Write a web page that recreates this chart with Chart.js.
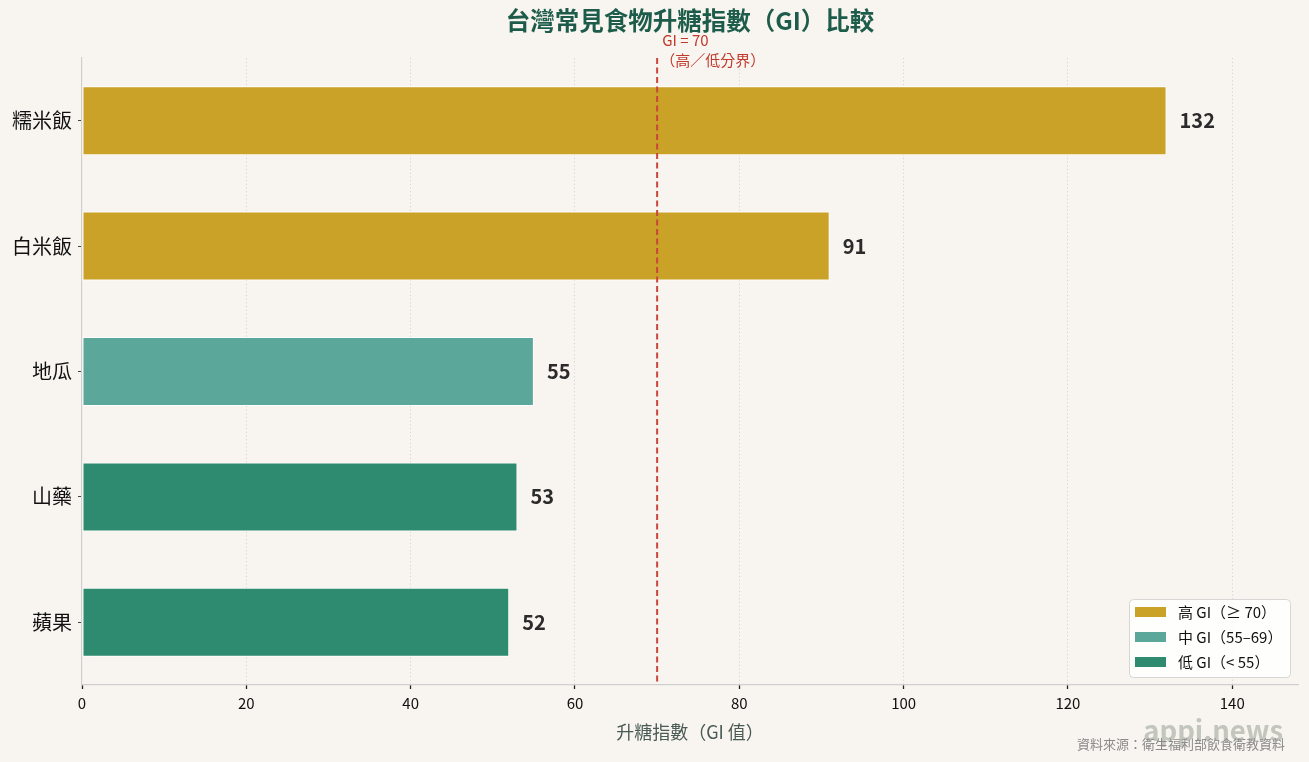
<!DOCTYPE html>
<html lang="zh-Hant">
<head>
<meta charset="utf-8">
<title>台灣常見食物升糖指數（GI）比較</title>
<script src="https://cdn.jsdelivr.net/npm/chart.js@4/dist/chart.umd.min.js"></script>
<style>
  html, body { margin: 0; padding: 0; background: #F8F5F0; }
  #wrap { width: 1309px; height: 762px; position: relative; }
</style>
</head>
<body>
<div id="wrap"><canvas id="giChart"></canvas></div>
<script>
// Data
const foods = ['糯米飯', '白米飯', '地瓜', '山藥', '蘋果'];
const giValues = [132, 91, 55, 53, 52];
const giLevels = ['high', 'high', 'mid', 'low', 'low'];
const xTicks = [0, 20, 40, 60, 80, 100, 120, 140];
const xMax = 148;
const giThreshold = 70;

const levelColors = { high: '#C9A227', mid: '#5BA89A', low: '#2E8B70' };
const legendItems = [
    { level: 'high', text: '高 GI（≥ 70）' },
    { level: 'mid', text: '中 GI（55–69）' },
    { level: 'low', text: '低 GI（< 55）' }
];

const FONT = '"Noto Sans CJK TC", "Noto Sans", sans-serif';

// Extra drawing: title, threshold line, value labels, legend, footer
const extras = {
    id: 'extras',
    beforeDraw(chart) {
        const ctx = chart.ctx;
        const area = chart.chartArea;
        ctx.save();
        ctx.fillStyle = '#F8F5F0';
        ctx.fillRect(0, 0, chart.width, chart.height);
        ctx.fillStyle = '#1D5C4A';
        ctx.font = 'bold 24.5px ' + FONT;
        ctx.textAlign = 'center';
        ctx.textBaseline = 'middle';
        ctx.fillText('台灣常見食物升糖指數（GI）比較', (area.left + area.right) / 2, 21);
        ctx.restore();
    },
    afterDatasetsDraw(chart) {
        const ctx = chart.ctx;
        const area = chart.chartArea;
        const xs = chart.scales.x;

        // threshold line
        const tx = xs.getPixelForValue(giThreshold);
        ctx.save();
        ctx.strokeStyle = '#C8463A';
        ctx.lineWidth = 2;
        ctx.setLineDash([6, 3.5]);
        ctx.beginPath();
        ctx.moveTo(tx, area.top);
        ctx.lineTo(tx, area.bottom);
        ctx.stroke();
        ctx.setLineDash([]);
        ctx.fillStyle = '#C0392B';
        ctx.font = '15px ' + FONT;
        ctx.textAlign = 'left';
        ctx.textBaseline = 'middle';
        ctx.fillText('GI = 70', tx + 5, 40);
        ctx.fillText('（高／低分界）', tx + 3, 60);
        ctx.restore();

        // value labels
        const meta = chart.getDatasetMeta(0);
        ctx.save();
        ctx.font = 'bold 20px ' + FONT;
        ctx.fillStyle = '#2b2b2b';
        ctx.textAlign = 'left';
        ctx.textBaseline = 'middle';
        meta.data.forEach((bar, i) => {
            ctx.fillText(String(giValues[i]), bar.x + 13, bar.y);
        });
        ctx.restore();
    },
    afterDraw(chart) {
        const ctx = chart.ctx;
        const area = chart.chartArea;

        // legend box
        const bw = 161, bh = 78;
        const bx = area.right - 8 - bw, by = area.bottom - 8 - bh;
        ctx.save();
        ctx.fillStyle = 'rgba(255,255,255,0.85)';
        ctx.strokeStyle = '#d6d6d6';
        ctx.lineWidth = 1;
        ctx.beginPath();
        ctx.roundRect(bx + 0.5, by + 0.5, bw, bh, 4);
        ctx.fill();
        ctx.stroke();
        ctx.font = '15px ' + FONT;
        ctx.textBaseline = 'middle';
        ctx.textAlign = 'left';
        legendItems.forEach((item, i) => {
            const cy = by + 13 + i * 25;
            ctx.fillStyle = levelColors[item.level];
            ctx.fillRect(bx + 6, cy - 5, 31, 10);
            ctx.fillStyle = '#111';
            ctx.fillText(item.text, bx + 49, cy);
        });
        ctx.restore();

        // watermark and source
        ctx.save();
        ctx.textAlign = 'right';
        ctx.textBaseline = 'middle';
        ctx.font = 'bold 27.5px ' + FONT;
        ctx.fillStyle = 'rgba(165,172,162,0.65)';
        ctx.fillText('appi.news', 1283, 731);
        ctx.font = '13px ' + FONT;
        ctx.fillStyle = '#8a8a8a';
        ctx.fillText('資料來源：衛生福利部飲食衛教資料', 1285, 744);
        ctx.restore();
    }
};

new Chart(document.getElementById('giChart'), {
    type: 'bar',
    data: {
        labels: foods,
        datasets: [{
            label: 'GI',
            data: giValues,
            backgroundColor: giLevels.map(l => levelColors[l]),
            borderColor: '#ffffff',
            borderWidth: 1,
            borderSkipped: false,
            barPercentage: 0.55,
            categoryPercentage: 1.0
        }]
    },
    plugins: [extras],
    options: {
        indexAxis: 'y',
        responsive: true,
        maintainAspectRatio: false,
        animation: false,
        layout: { padding: { left: 0, right: 11, top: 58, bottom: 0 } },
        plugins: {
            legend: { display: false },
            tooltip: { enabled: false },
            title: { display: false }
        },
        scales: {
            x: {
                min: 0,
                max: xMax,
                afterBuildTicks: (scale) => { scale.ticks = xTicks.map(v => ({ value: v })); },
                afterFit: (scale) => { scale.height = 77; },
                grid: {
                    // no dotted line over the left axis at 0
                    color: (c) => (c.tick && c.tick.value === 0 ? 'rgba(0,0,0,0)' : '#d4d4d4'),
                    lineWidth: 1,
                    tickColor: '#222',
                    tickLength: 4,
                    tickWidth: 1.3,
                    drawTicks: true
                },
                border: { display: true, color: '#cfcfcf', width: 1.2, dash: [1.2, 2.5] },
                ticks: { color: '#111', font: { family: FONT, size: 15 }, padding: 5 },
                title: {
                    display: true,
                    text: '升糖指數（GI 值）',
                    color: '#4a5a55',
                    font: { family: FONT, size: 18 },
                    padding: { top: 0, bottom: 19 }
                }
            },
            y: {
                afterFit: (scale) => { scale.width = 82; },
                grid: {
                    offset: false,
                    drawOnChartArea: false,
                    drawTicks: true,
                    tickLength: 4,
                    tickColor: '#444'
                },
                border: { display: true, color: '#cfcfcf', width: 1.2 },
                ticks: { color: '#111', font: { family: FONT, size: 20 }, padding: 6 }
            }
        }
    }
});
</script>
</body>
</html>
